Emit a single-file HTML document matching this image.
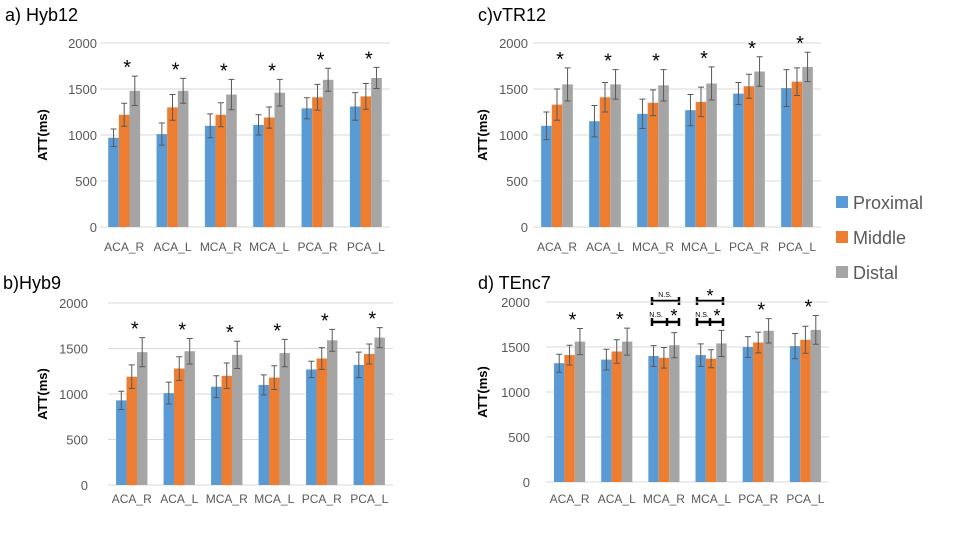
<!DOCTYPE html>
<html><head><meta charset="utf-8"><style>
body{margin:0;background:#fff;}
svg{font-family:"Liberation Sans",sans-serif;display:block}
</style></head><body>
<svg id="s" width="960" height="540" viewBox="0 0 960 540">
<text x="5" y="21" font-size="18" fill="#000">a) Hyb12</text>
<text x="478" y="21" font-size="18" fill="#000">c)vTR12</text>
<text x="3" y="289" font-size="18" fill="#000">b)Hyb9</text>
<text x="478" y="289" font-size="18" fill="#000">d) TEnc7</text>
<g>
<rect x="836" y="196" width="12" height="12" fill="#5b9bd5"/>
<text x="853" y="209" font-size="18" fill="#595959">Proximal</text>
<rect x="836" y="231" width="12" height="12" fill="#ed7d31"/>
<text x="853" y="244" font-size="18" fill="#595959">Middle</text>
<rect x="836" y="266" width="12" height="12" fill="#a5a5a5"/>
<text x="853" y="279" font-size="18" fill="#595959">Distal</text>
</g>
<g stroke="#000" stroke-width="2.5" fill="none">
<path d="M652 301H679M652 297V305M679 297V305"/>
<path d="M652 322H679M652 318V326M667 318V326M679 318V326"/>
<path d="M697 301H723M697 297V305M723 297V305"/>
<path d="M697 322H723M697 318V326M710 318V326M723 318V326"/>
</g>
<g font-size="7" fill="#000">
<text x="665" y="297" text-anchor="middle">N.S.</text>
<text x="656" y="317" text-anchor="middle">N.S.</text>
<text x="674" y="322" font-size="18" text-anchor="middle">*</text>
<text x="710" y="302" font-size="18" text-anchor="middle">*</text>
<text x="702" y="317" text-anchor="middle">N.S.</text>
<text x="717" y="322" font-size="18" text-anchor="middle">*</text>
</g>
</svg>
<script>
const categories=["ACA_R","ACA_L","MCA_R","MCA_L","PCA_R","PCA_L"];
const yTicks=[0,500,1000,1500,2000];
const aProx=[970,1010,1100,1110,1290,1310];
const aMid=[1220,1300,1220,1190,1410,1420];
const aDist=[1480,1480,1440,1460,1600,1620];
const aProxErr=[95,120,130,110,115,150];
const aMidErr=[125,140,130,115,140,140];
const aDistErr=[160,135,165,145,125,115];
const bProx=[930,1010,1080,1100,1270,1320];
const bMid=[1190,1280,1200,1180,1390,1440];
const bDist=[1460,1470,1430,1450,1590,1620];
const bProxErr=[100,120,120,110,90,140];
const bMidErr=[130,130,140,130,120,110];
const bDistErr=[160,140,150,150,120,110];
const cProx=[1100,1150,1230,1270,1450,1510];
const cMid=[1330,1410,1350,1360,1530,1580];
const cDist=[1550,1550,1540,1560,1690,1740];
const cProxErr=[150,170,160,170,120,200];
const cMidErr=[170,160,140,160,130,150];
const cDistErr=[180,160,170,180,160,160];
const dProx=[1320,1360,1400,1410,1500,1510];
const dMid=[1410,1450,1380,1370,1550,1580];
const dDist=[1560,1560,1520,1540,1680,1690];
const dProxErr=[100,115,115,125,115,140];
const dMidErr=[110,130,115,100,115,150];
const dDistErr=[145,150,140,145,135,160];
const dStars=[true,true,false,false,true,true];
const allStars=[true,true,true,true,true,true];

const svg=document.getElementById('s');
const NS='http://www.w3.org/2000/svg';
function mk(tag,attrs,parent){const e=document.createElementNS(NS,tag);for(const k in attrs)e.setAttribute(k,attrs[k]);(parent||svg).appendChild(e);return e;}
const colors=["#5b9bd5","#ed7d31","#a5a5a5"];
const snames=["proximal","middle","distal"];
function panel(id,x0,x1,yTop,yBot,tickX,labX,catY,series,errs,stars){
  const g=mk('g',{});
  
  
  const ys=v=>yBot-(v/2000)*(yBot-yTop);
  const step=(x1-x0)/categories.length;
  const bw=step*0.22;
  yTicks.forEach(t=>{
    const l=mk('line',{x1:x0,x2:x1,y1:ys(t),y2:ys(t),stroke:'#d9d9d9','stroke-width':1},g);
    
    
    const tx=mk('text',{x:tickX,y:ys(t)+5,'font-size':13,fill:'#595959','text-anchor':'end'},g);
    tx.textContent=t;
    
    
  });
  const yl=mk('text',{x:labX,y:(yTop+yBot)/2,'font-size':13,'font-weight':'bold',fill:'#000','text-anchor':'middle',transform:`rotate(-90 ${labX} ${(yTop+yBot)/2})`},g);
  yl.textContent='ATT(ms)';
  
  
  categories.forEach((c,i)=>{
    const cx=x0+step*(i+0.5);
    const lt=mk('text',{x:cx,y:catY,'font-size':12,fill:'#595959','text-anchor':'middle'},g);
    lt.textContent=c;
    
    
    let top=0;
    series.forEach((s,k)=>{
      const bx=cx+(k-1.5)*bw;
      const r=mk('rect',{x:bx,y:ys(s[i]),width:bw,height:ys(0)-ys(s[i]),fill:colors[k]},g);
      
      
      const ex=bx+bw/2,hi=s[i]+errs[k][i],lo=s[i]-errs[k][i];
      top=Math.max(top,hi);
      const e=mk('path',{d:`M${ex} ${ys(hi)}V${ys(lo)}M${ex-3} ${ys(hi)}H${ex+3}M${ex-3} ${ys(lo)}H${ex+3}`,stroke:'#595959','stroke-width':1,fill:'none'},g);
      
      
    });
    if(stars[i]){
      const st=mk('text',{x:cx+3,y:ys(top)-2,'font-size':20,fill:'#000','text-anchor':'middle'},g);
      st.textContent='*';
      
      
    }
  });
}
panel('a',100,390,43,227,97,47,251,[aProx,aMid,aDist],[aProxErr,aMidErr,aDistErr],allStars);
panel('b',108,393,303,485,88,47,503,[bProx,bMid,bDist],[bProxErr,bMidErr,bDistErr],allStars);
panel('c',533,821,43,227,528,487,251,[cProx,cMid,cDist],[cProxErr,cMidErr,cDistErr],allStars);
panel('d',546,829,302,482,530,487,503,[dProx,dMid,dDist],[dProxErr,dMidErr,dDistErr],dStars);
</script>
</body></html>
